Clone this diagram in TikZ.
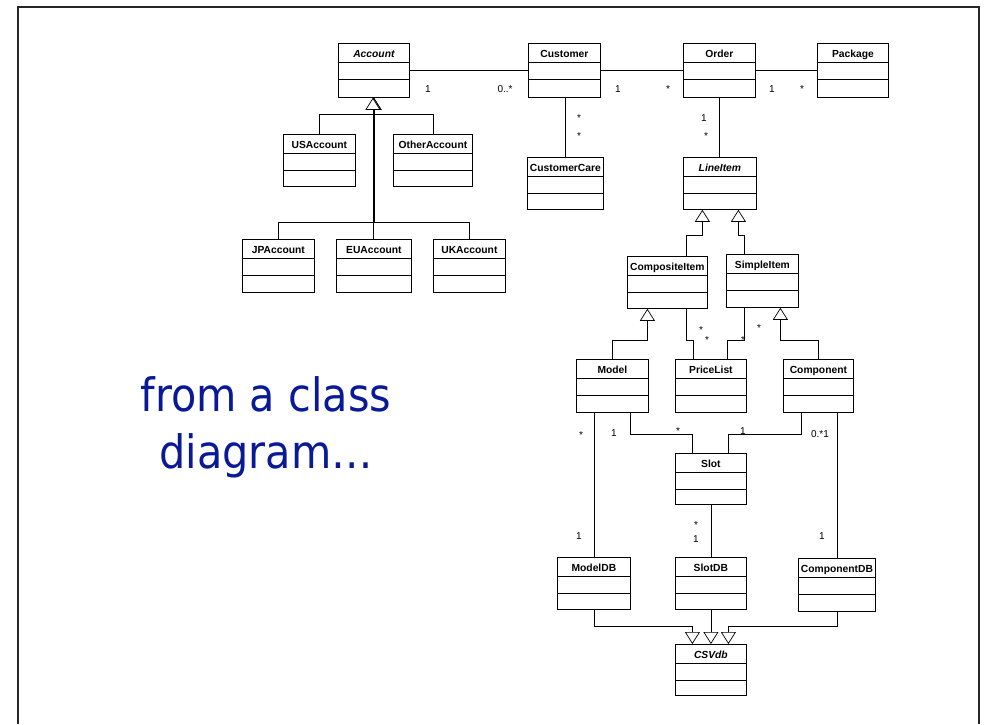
\documentclass[tikz,border=0pt]{standalone}
\usepackage{fontspec}
\setmainfont{Liberation Sans}
\newfontfamily\titlefont{DejaVu Sans Condensed}
\usetikzlibrary{arrows.meta,calc}
\definecolor{titleblue}{RGB}{10,25,150}
\tikzset{
  cls/.style={draw, line width=0.8pt, inner sep=0pt, anchor=north west},
  clsname/.style={font=\fontsize{10.3}{12}\selectfont\bfseries, inner sep=0pt, anchor=base},
  mult/.style={font=\fontsize{10}{12}\selectfont, inner sep=0pt, anchor=base},
  assoc/.style={line width=0.7pt},
  gen/.style={line width=0.7pt, -{Triangle[fill=white,length=12pt,width=15pt]}},
  divider/.style={line width=0.8pt},
  frameline/.style={line width=1.8pt, black!85},
  titletext/.style={font=\titlefont\fontsize{46}{57}\selectfont, text=titleblue, inner sep=0pt, anchor=base},
}
\newcommand\umlcls[6]{%
  \node[cls, minimum width=#4pt, minimum height=#5pt] (#1) at (#2,-#3) {};
  \node[clsname] (#1-t) at ([yshift=-14pt]#1.north) {#6};
  \draw[divider] ([yshift=-19.5pt]#1.north west) -- ([yshift=-19.5pt]#1.north east);
  \draw[divider] ([yshift=-36.5pt]#1.north west) -- ([yshift=-36.5pt]#1.north east);
}
\begin{document}
\begin{tikzpicture}[x=1pt,y=1pt]
\useasboundingbox (0,0) rectangle (987,-724);
\draw[frameline] (18,-724) -- (18,-7) -- (979,-7) -- (979,-724);

% classes
\umlcls{Account}{338}{43}{71}{54}{\itshape Account}
\umlcls{Customer}{528}{43}{72}{54}{Customer}
\umlcls{Order}{683}{43}{72}{54}{Order}
\umlcls{Package}{817}{43}{71}{54}{Package}
\umlcls{USAccount}{283}{134}{72}{52}{USAccount}
\umlcls{OtherAccount}{393}{134}{79}{52}{OtherAccount}
\umlcls{CustomerCare}{527}{157}{76}{52}{CustomerCare}
\umlcls{LineItem}{683}{157}{73}{52}{\itshape LineItem}
\umlcls{JPAccount}{242}{239}{72}{53}{JPAccount}
\umlcls{EUAccount}{336}{239}{75}{53}{EUAccount}
\umlcls{UKAccount}{433}{239}{72}{53}{UKAccount}
\umlcls{CompositeItem}{627}{256}{80}{52}{CompositeItem}
\umlcls{SimpleItem}{726}{254}{72}{53}{SimpleItem}
\umlcls{Model}{576}{359}{72}{53}{Model}
\umlcls{PriceList}{675}{359}{71}{53}{PriceList}
\umlcls{Component}{783}{359}{70}{53}{Component}
\umlcls{Slot}{675}{453}{71}{51}{Slot}
\umlcls{ModelDB}{557}{557}{73}{52}{ModelDB}
\umlcls{SlotDB}{675}{557}{71}{52}{SlotDB}
\umlcls{ComponentDB}{798}{558}{77}{53}{ComponentDB}
\umlcls{CSVdb}{675}{644}{71}{51}{\itshape CSVdb}

% associations (top row)
\draw[assoc] (Account.east) -- (Customer.west);
\draw[assoc] (Customer.east) -- (Order.west);
\draw[assoc] (Order.east) -- (Package.west);
\draw[assoc] (CustomerCare.north |- Customer.south) -- (CustomerCare.north);
\draw[assoc] (Order.south) -- (Order.south |- LineItem.north);

% account hierarchy
\draw[gen] (USAccount.north) -- ++(0,20pt) -| (Account.south);
\draw[gen] (OtherAccount.north) -- ++(0,20pt) -| (Account.south);
\draw[gen] (JPAccount.north) -- ++(0,17pt) -| (Account.south);
\draw[gen] (UKAccount.north) -- ++(0,17pt) -| (Account.south);
\draw[gen] ([xshift=-1pt]EUAccount.north) -- ([xshift=-1pt]Account.south);

% line item hierarchy
\draw[gen] ([xshift=19pt]CompositeItem.north) -- ++(0,21pt) -| ([xshift=-17.5pt]LineItem.south);
\draw[gen] ([xshift=-18pt]SimpleItem.north) -- ++(0,19pt) -| ([xshift=18.5pt]LineItem.south);
\draw[gen] (Model.north) -- ++(0,19pt) -| ([xshift=-20pt]CompositeItem.south);
\draw[gen] (Component.north) -- ++(0,19pt) -| ([xshift=18pt]SimpleItem.south);

% price list
\draw[assoc] ([xshift=19pt]CompositeItem.south) -- ++(0,-32pt) -| ([xshift=-17.5pt]PriceList.north);
\draw[assoc] ([xshift=-18pt]SimpleItem.south) -- ++(0,-33pt) -| ([xshift=16.5pt]PriceList.north);

% slot
\draw[assoc] ([xshift=18pt]Model.south) -- ++(0,-22pt) -| ([xshift=-18.5pt]Slot.north);
\draw[assoc] ([xshift=-17pt]Component.south) -- ++(0,-22pt) -| ([xshift=17.5pt]Slot.north);
\draw[assoc] (ModelDB.north |- Model.south) -- (ModelDB.north);
\draw[assoc] (ComponentDB.north |- Component.south) -- (ComponentDB.north);
\draw[assoc] (Slot.south) -- (SlotDB.north);

% db hierarchy
\draw[gen] (ModelDB.south) -- ++(0,-17pt) -| ([xshift=-18.5pt]CSVdb.north);
\draw[gen] (SlotDB.south) -- (CSVdb.north);
\draw[gen] (ComponentDB.south) -- ++(0,-15pt) -| ([xshift=17.5pt]CSVdb.north);

% multiplicities
\node[mult] (m1) at (428,-92) {1};
\node[mult] (m2) at (505,-92) {0..*};
\node[mult] (m3) at (618,-92) {1};
\node[mult] (m4) at (668,-92) {*};
\node[mult] (m5) at (772,-92) {1};
\node[mult] (m6) at (802,-92) {*};
\node[mult] (m7) at (579,-121) {*};
\node[mult] (m8) at (579,-139) {*};
\node[mult] (m9) at (704,-121) {1};
\node[mult] (m10) at (706,-139) {*};
\node[mult] (m11) at (701,-333) {*};
\node[mult] (m12) at (707,-343) {*};
\node[mult] (m13) at (743,-343) {*};
\node[mult] (m14) at (759,-331) {*};
\node[mult] (m15) at (581,-438) {*};
\node[mult] (m16) at (614,-436) {1};
\node[mult] (m17) at (678,-434) {*};
\node[mult] (m18) at (743,-434) {1};
\node[mult] (m19) at (820,-437) {0.*1};
\node[mult] (m20) at (696,-528) {*};
\node[mult] (m21) at (696,-542) {1};
\node[mult] (m22) at (579,-539) {1};
\node[mult] (m23) at (822,-539) {1};

% title text
\node[titletext] (title1) at (266,-411) {from a class};
\node[titletext] (title2) at (266,-468) {diagram…};
\end{tikzpicture}
\end{document}
